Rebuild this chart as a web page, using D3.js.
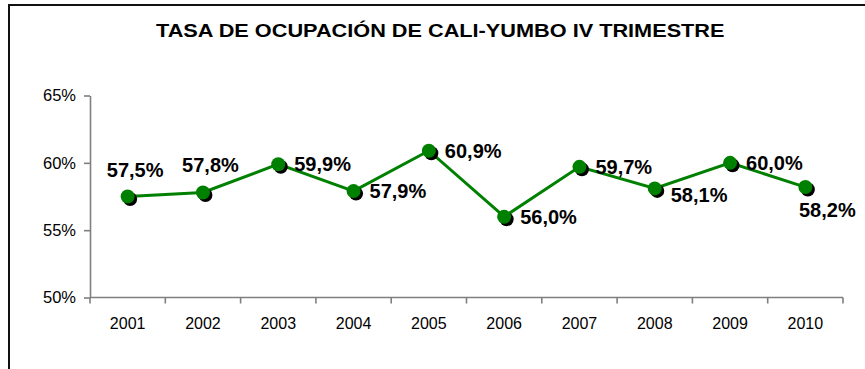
<!DOCTYPE html>
<html>
<head>
<meta charset="utf-8">
<script src="https://cdn.jsdelivr.net/npm/d3@7"></script>
<style>
  html, body { margin: 0; padding: 0; background: #fff; }
  svg { display: block; font-family: Arial, "Liberation Sans", sans-serif; }
</style>
</head>
<body>
<svg id="chart" width="865" height="369"></svg>
<script>
// Tasa de ocupación, cuarto trimestre de cada año
const years = ["2001", "2002", "2003", "2004", "2005", "2006", "2007", "2008", "2009", "2010"];
const rates = [57.5, 57.8, 59.9, 57.9, 60.9, 56.0, 59.7, 58.1, 60.0, 58.2];
const yTicks = [50, 55, 60, 65];
// where each value label sits relative to its point
const labelSide = ["above", "above", "right", "right", "right", "right", "right", "rightLow", "right", "below"];
const title = "TASA DE OCUPACIÓN DE CALI-YUMBO IV TRIMESTRE";

const svg = d3.select("#chart");
const W = 865, H = 369;
const plot = { left: 90, right: 843, top: 95.5, bottom: 297.5 };

// frame (only top and left edges fall inside the view)
svg.append("path")
  .attr("d", `M9,${H + 5} L9,5 L${W + 5},5`)
  .attr("fill", "none")
  .attr("stroke", "#111")
  .attr("stroke-width", 2);

// title, widened horizontally to span its box
const titleBox = { x: 156, width: 569, baseline: 37 };
const titleText = svg.append("text")
  .attr("x", 0)
  .attr("y", 0)
  .attr("font-size", 17.5)
  .attr("font-weight", "bold")
  .attr("fill", "#000")
  .text(title);
const natural = titleText.node().getComputedTextLength();
titleText.attr("transform",
  `translate(${titleBox.x},${titleBox.baseline}) scale(${titleBox.width / natural},1)`);

const x = d3.scaleBand().domain(years).range([plot.left, plot.right]);
const y = d3.scaleLinear().domain([50, 65]).range([plot.bottom, plot.top]);

const axisColor = "#7f7f7f";

// y axis
const yAxis = svg.append("g")
  .attr("transform", `translate(${plot.left},0)`)
  .call(d3.axisLeft(y).tickValues(yTicks).tickSize(6).tickSizeOuter(0)
    .tickFormat(d => d + "%"));
yAxis.select(".domain").attr("stroke", axisColor).attr("stroke-width", 1.6);
yAxis.selectAll(".tick line").attr("stroke", axisColor).attr("stroke-width", 1.6);
yAxis.selectAll(".tick text")
  .attr("x", -14)
  .attr("font-size", 16.5)
  .attr("font-family", "Arial, 'Liberation Sans', sans-serif")
  .attr("fill", "#000");

// x axis with ticks on band edges
const xAxis = svg.append("g")
  .attr("transform", `translate(0,${plot.bottom})`);
xAxis.append("line")
  .attr("x1", plot.left).attr("x2", plot.right)
  .attr("stroke", axisColor).attr("stroke-width", 1.6);
const edges = years.map(d => x(d)).concat([x(years[years.length - 1]) + x.bandwidth()]);
xAxis.selectAll("line.edge").data(edges).join("line")
  .attr("class", "edge")
  .attr("x1", d => d).attr("x2", d => d)
  .attr("y1", 0).attr("y2", 6)
  .attr("stroke", axisColor).attr("stroke-width", 1.6);
xAxis.selectAll("text").data(years).join("text")
  .attr("x", d => x(d) + x.bandwidth() / 2)
  .attr("y", 31.5)
  .attr("text-anchor", "middle")
  .attr("font-size", 16)
  .attr("fill", "#000")
  .text(d => d);

const pts = years.map((yr, i) => ({ yr, v: rates[i], side: labelSide[i],
  cx: x(yr) + x.bandwidth() / 2, cy: y(rates[i]) }));

const green = "#008000";

svg.append("path")
  .datum(pts)
  .attr("d", d3.line().x(d => d.cx).y(d => d.cy))
  .attr("fill", "none")
  .attr("stroke", green)
  .attr("stroke-width", 3);

// markers with a dark drop shadow
svg.selectAll("circle.shadow").data(pts).join("circle")
  .attr("class", "shadow")
  .attr("cx", d => d.cx + 2.5).attr("cy", d => d.cy + 2.5)
  .attr("r", 7).attr("fill", "#000");
svg.selectAll("circle.dot").data(pts).join("circle")
  .attr("class", "dot")
  .attr("cx", d => d.cx).attr("cy", d => d.cy)
  .attr("r", 7).attr("fill", green);

const place = {
  above:    { dx: 7.5, dy: -20, anchor: "middle" },
  right:    { dx: 16,  dy: 7,   anchor: "start" },
  rightLow: { dx: 16,  dy: 13.5, anchor: "start" },
  below:    { dx: 22,  dy: 30,  anchor: "middle" }
};

svg.selectAll("text.val").data(pts).join("text")
  .attr("class", "val")
  .attr("x", d => d.cx + place[d.side].dx)
  .attr("y", d => d.cy + place[d.side].dy)
  .attr("text-anchor", d => place[d.side].anchor)
  .attr("font-size", 20)
  .attr("font-weight", "bold")
  .attr("fill", "#000")
  .text(d => d.v.toFixed(1).replace(".", ",") + "%");
</script>
</body>
</html>
